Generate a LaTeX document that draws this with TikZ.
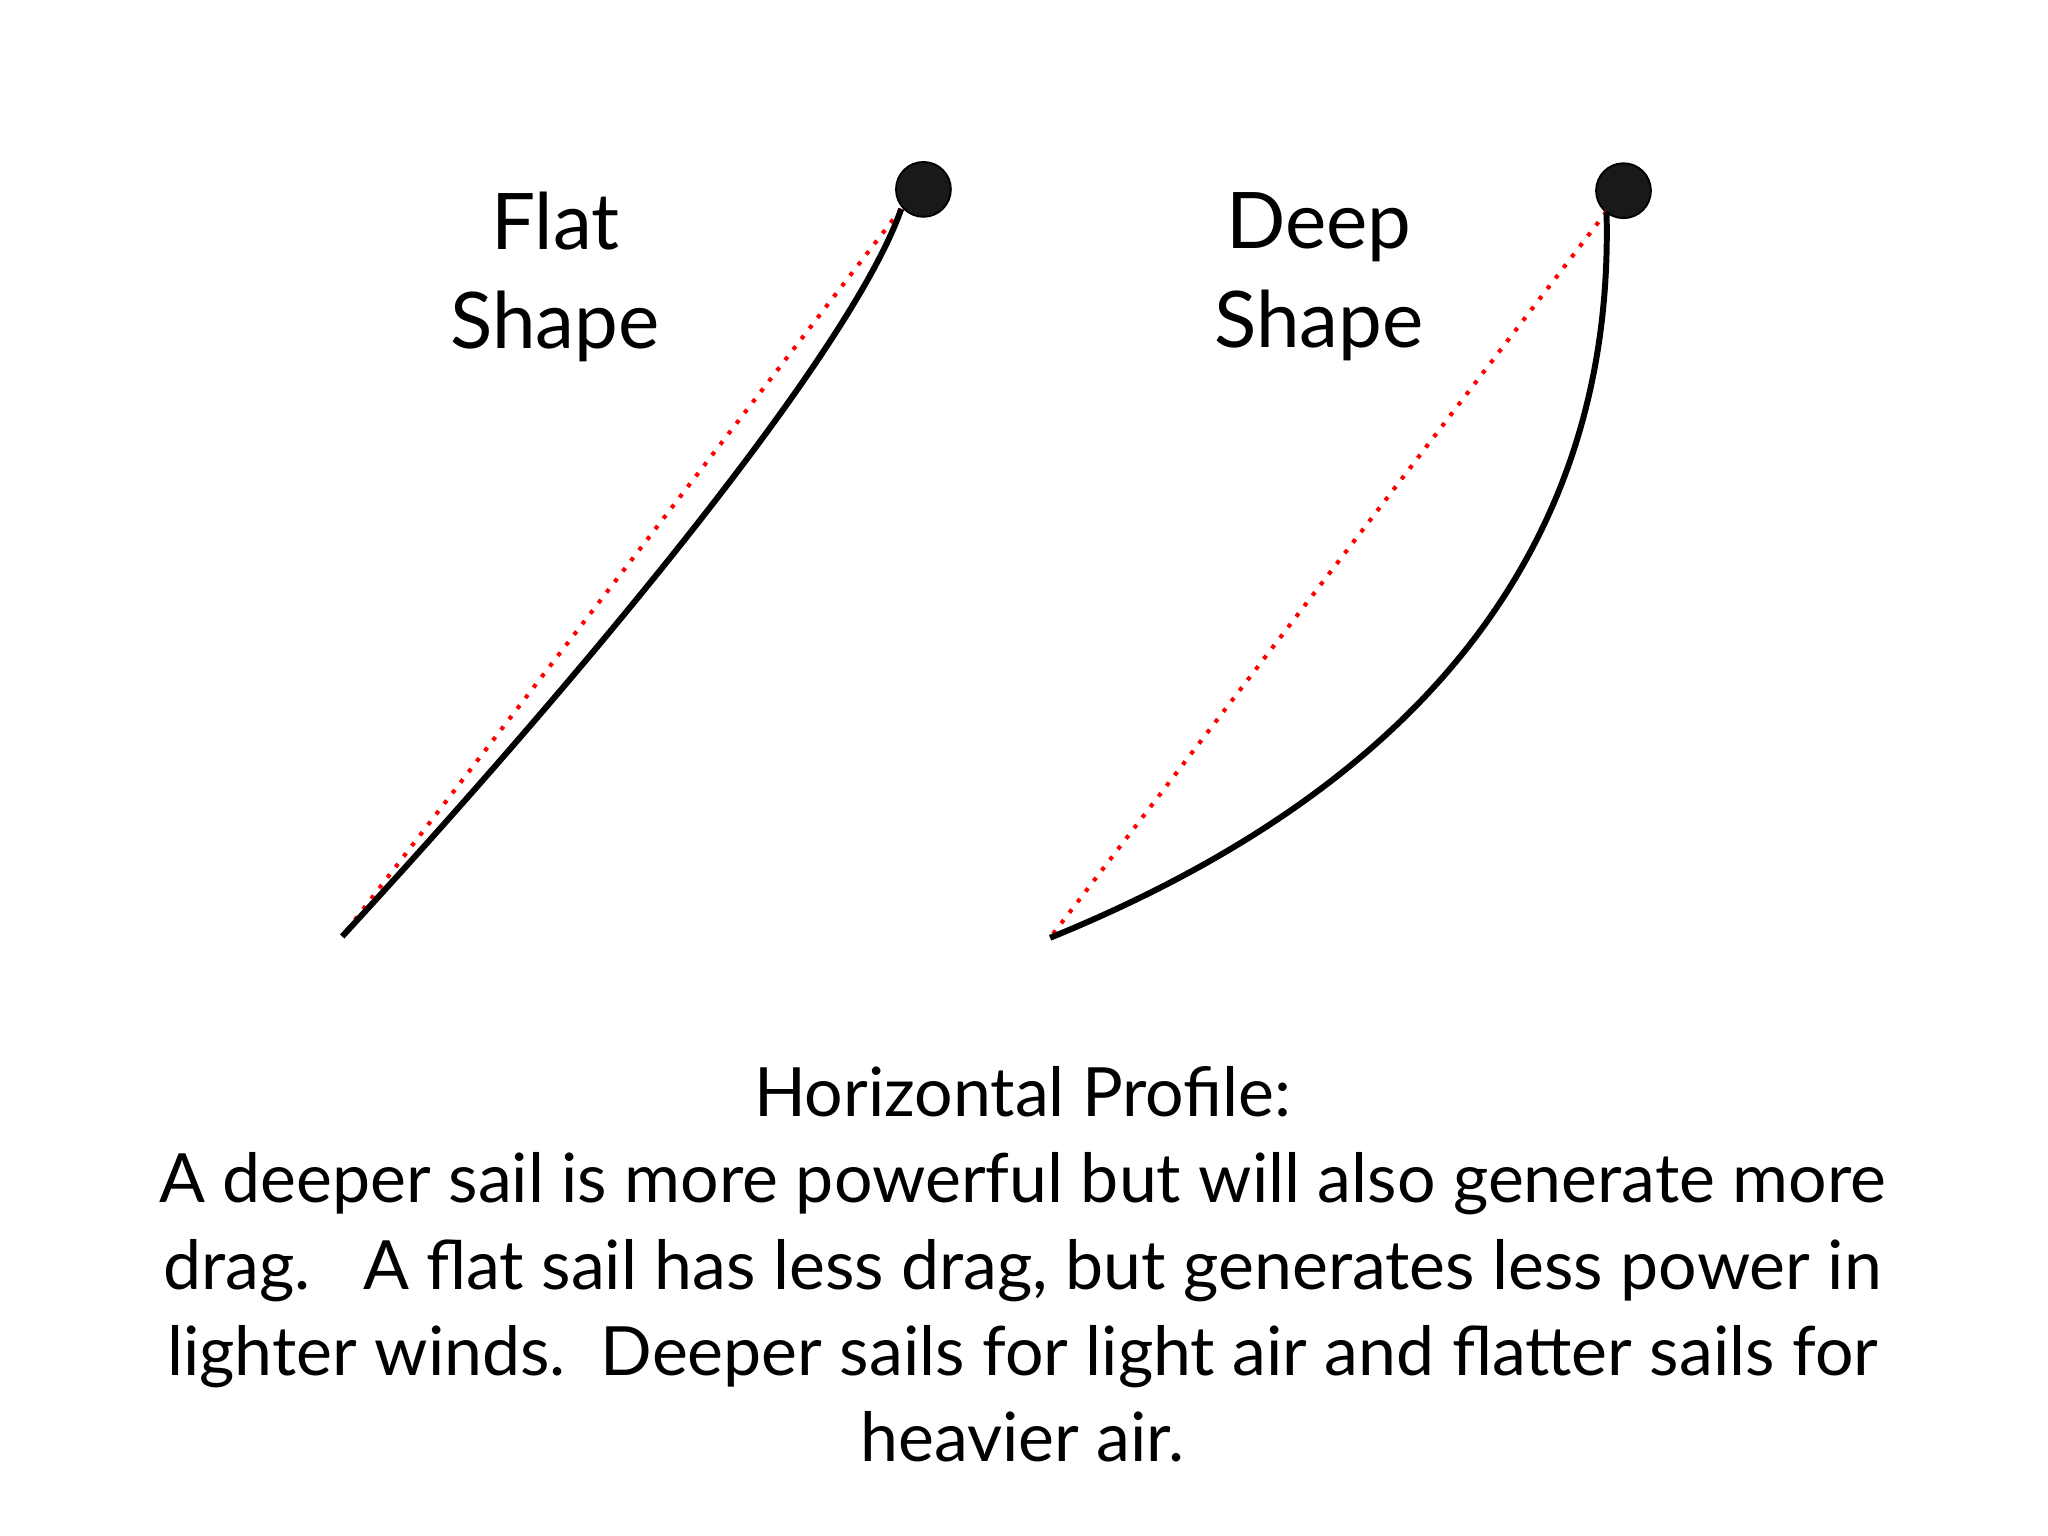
\documentclass[tikz,border=0pt]{standalone}
\usepackage{fontspec}
\setmainfont{Lato}
\begin{document}
\begin{tikzpicture}[x=0.01cm,y=-0.01cm,
  sail/.style={line width=1.3pt,black},
  chord/.style={red,dotted,line width=0.9pt},
  clew/.style={circle,fill=black!90,draw=black,minimum size=0.42cm,inner sep=0pt},
  title/.style={align=center,font=\fontsize{17pt}{21.5pt}\selectfont},
  caption/.style={align=center,font=\fontsize{14.8pt}{18.8pt}\selectfont}]
\useasboundingbox (0,0) rectangle (1568,1176);
\node[clew] (d1) at (707,145) {};
\node[clew] (d2) at (1243,146) {};
\coordinate (h1) at (690,160);
\coordinate (t1) at (262,717);
\coordinate (h2) at (1230,162);
\coordinate (t2) at (804,718);
\draw[chord] (h1) -- (t1);
\draw[chord] (h2) -- (t2);
\draw[sail] (h1) .. controls (655,260) and (480,480) .. (t1);
\draw[sail] (h2) .. controls (1238,470) and (1020,630) .. (t2);
\node[title] (ft) at (425,212) {Flat\\Shape};
\node[title] (dt) at (1010,212) {Deep\\Shape};
\node[caption] (cap) at (783,968) {Horizontal Profile:\\
A deeper sail is more powerful but will also generate more\\
drag.\ \ \ A flat sail has less drag, but generates less power in\\
lighter winds.\ \ Deeper sails for light air and flatter sails for\\
heavier air.};
\end{tikzpicture}
\end{document}
